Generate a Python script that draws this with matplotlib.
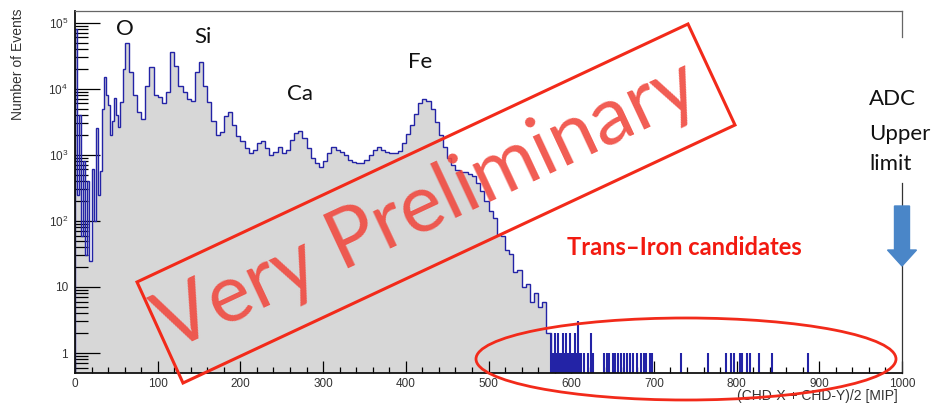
import numpy as np
import matplotlib.pyplot as plt
from matplotlib.patches import Polygon, Ellipse, FancyArrow
from matplotlib.ticker import FixedLocator, FixedFormatter, MultipleLocator, LogLocator, NullFormatter

plt.rcParams['font.family'] = ['Liberation Sans', 'DejaVu Sans']
plt.rcParams['mathtext.fontset'] = 'custom'
plt.rcParams['mathtext.rm'] = 'Liberation Sans'
plt.rcParams['mathtext.it'] = 'Liberation Sans'

# Charge histogram, (CHD-X + CHD-Y)/2 in MIP
# fine bins of 2.5 MIP from 0 to 60
fine_counts = [80000, 250, 4000, 60, 800, 30, 400, 25, 600, 100, 2500, 250,
               560, 5000, 15000, 8000, 5600, 2000, 3200, 7200, 4000, 2600, 6300, 20000]
# bins of 5 MIP from 60 up to 575
coarse_counts = [50000, 18000, 8000, 4500, 3500, 11000, 21000, 8000, 7400, 6000,
                 9000, 36000, 22000, 11000, 9000, 7000, 6600, 18000, 25000, 11000,
                 6300, 3200, 2000, 2200, 3800, 4400, 2800, 1900, 1600, 1250,
                 1070, 1200, 1500, 1600, 1260, 1000, 1120, 1290, 1070, 1200,
                 1660, 2140, 2300, 1780, 1260, 890, 740, 660, 800, 1050,
                 1320, 1200, 1120, 1000, 830, 780, 760, 740, 830, 1000,
                 1200, 1290, 1170, 1120, 1070, 1050, 1150, 1510, 2090, 2820,
                 4170, 6000, 7080, 6600, 5000, 3160, 2000, 1320, 890, 710,
                 590, 550, 540, 520, 480, 370, 280, 200, 140, 110,
                 62, 58, 36, 32, 17, 18, 10, 11, 6, 8,
                 5, 6, 2]

# isolated trans-iron candidate bins (position in MIP, events)
cand_x = [576, 578, 580, 582, 584, 586, 588, 590, 592, 594, 596, 598, 600, 602,
          604, 606, 608, 610, 612, 616, 620, 624, 626,
          640, 643, 646, 650, 653, 656, 660, 664, 668, 671, 675, 680, 684, 688,
          691, 695, 698,
          733, 766, 787, 793, 797, 804, 806, 813, 816, 827, 843, 886]
cand_n = [2, 1, 2, 1, 2, 1, 1, 2, 1, 2, 1, 2, 1, 1,
          2, 1, 3, 1, 1, 1, 1, 2, 1,
          1, 1, 1, 1, 1, 1, 1, 1, 1, 1, 1, 1, 1, 1,
          1, 1, 1,
          1, 1, 1, 1, 1, 1, 1, 1, 1, 1, 1, 1]

y_ticks = [1, 10, 100, 1e3, 1e4, 1e5]
y_tick_labels = ['1', '10', '$10^2$', '$10^3$', '$10^4$', '$10^5$']

W, H = 944, 404
YMIN, YMAX = 0.507, 1.5e5


def px(x, y):
    # pixel position (from top-left) -> figure fraction
    return (x / W, 1 - y / H)


fig = plt.figure(figsize=(W / 100, H / 100), dpi=100)
ax = fig.add_axes([75 / W, 1 - 372.5 / H, 827 / W, 361.5 / H])

edges = np.concatenate([np.arange(0, 60, 2.5), 60 + 5 * np.arange(len(coarse_counts) + 1)])
counts = np.array(fine_counts + coarse_counts, dtype=float)

ax.stairs(counts, edges, baseline=YMIN, fill=True, color='#d7d7d7', zorder=1)
ax.stairs(counts, edges, baseline=YMIN, color='#2323a6', linewidth=1.0, zorder=2)
ax.vlines(cand_x, YMIN, cand_n, color='#2323a6', linewidth=1.5, zorder=2)

ax.set_yscale('log')
ax.set_xlim(0, 1000)
ax.set_ylim(YMIN, YMAX)

ax.yaxis.set_major_locator(FixedLocator(y_ticks))
ax.yaxis.set_major_formatter(FixedFormatter(y_tick_labels))
ax.yaxis.set_minor_locator(LogLocator(base=10, subs=np.arange(2, 10)))
ax.yaxis.set_minor_formatter(NullFormatter())
ax.xaxis.set_major_locator(MultipleLocator(100))
ax.xaxis.set_minor_locator(MultipleLocator(20))

ax.tick_params(axis='y', which='major', direction='in', length=18, width=0.9, pad=5,
               labelsize=8.5, labelcolor='#333333')
ax.tick_params(axis='y', which='minor', direction='in', length=9, width=0.9)
ax.tick_params(axis='x', which='major', direction='in', length=8.5, width=0.9, pad=4,
               labelsize=8.5, labelcolor='#333333')
ax.tick_params(axis='x', which='minor', direction='in', length=4.3, width=0.9)

for s in ['left', 'bottom']:
    ax.spines[s].set_linewidth(1.3)
    ax.spines[s].set_color('#111111')
ax.spines['top'].set_color('#666666')
ax.spines['top'].set_linewidth(0.9)
ax.spines['right'].set_visible(False)
# right frame interrupted by the ADC annotation
ax.axvline(1000, ymin=0.928, ymax=1, color='#666666', linewidth=0.9, clip_on=False)
ax.axvline(1000, ymin=0, ymax=0.524, color='#333333', linewidth=0.9, clip_on=False)

fig.text(*px(18, 9), 'Number of Events', rotation=90, ha='center', va='top',
         fontsize=10, color='#333333')
fig.text(*px(898, 389), '(CHD-X + CHD-Y)/2 [MIP]', ha='right', va='top',
         fontsize=10, color='#333333')

lab = dict(family=['Lato', 'DejaVu Sans'], fontsize=16, color='#111111', va='baseline')
fig.text(*px(125, 35), 'O', ha='center', **lab)
fig.text(*px(203, 43), 'Si', ha='center', **lab)
fig.text(*px(300, 100), 'Ca', ha='center', **lab)
fig.text(*px(420, 68), 'Fe', ha='center', **lab)
fig.text(*px(869, 105), 'ADC', ha='left', **lab)
fig.text(*px(869, 140), 'Upper', ha='left', **lab)
fig.text(*px(869, 170), 'limit', ha='left', **lab)

red = '#f22a1a'
rect = Polygon([px(137, 282), px(688, 24), px(735, 125), px(183, 383)], closed=True,
               fill=False, edgecolor=red, linewidth=2.2, transform=fig.transFigure, zorder=5)
fig.add_artist(rect)
fig.text(*px(427, 206), 'Very Preliminary', rotation=25.1, rotation_mode='anchor',
         ha='center', va='center', family=['Lato', 'DejaVu Sans'], fontsize=58,
         color='#f04a40', alpha=0.9, zorder=5)

fig.text(*px(567, 255), 'Trans\u2013Iron candidates', ha='left', va='baseline',
         family=['Lato', 'DejaVu Sans'], fontsize=17, fontweight='bold', color='#f21a10')

ell = Ellipse(px(686, 359), 420 / W, 82 / H, fill=False, edgecolor=red, linewidth=2.0,
              transform=fig.transFigure, zorder=6)
fig.add_artist(ell)

arrow = FancyArrow(902 / W, 1 - 206 / H, 0, -60 / H, width=15 / W, head_width=29 / W,
                   head_length=16 / H, length_includes_head=True, color='#4a86c8',
                   transform=fig.transFigure, zorder=6)
fig.add_artist(arrow)

fig.savefig('out.png', dpi=100)
